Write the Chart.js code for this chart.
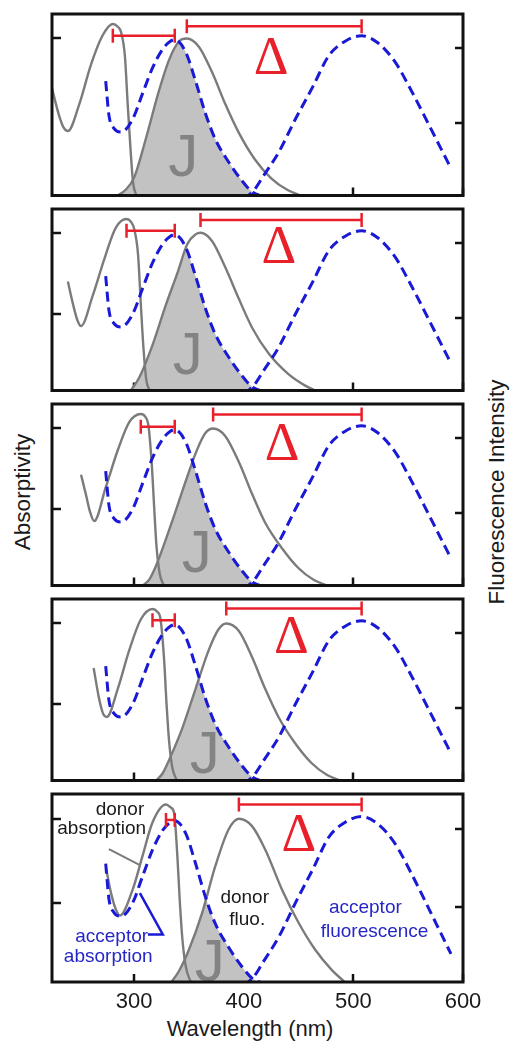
<!DOCTYPE html>
<html>
<head>
<meta charset="utf-8">
<script src="https://cdn.jsdelivr.net/npm/chart.js@4.4.1/dist/chart.umd.min.js"></script>
<style>
  html, body { margin: 0; padding: 0; background: #fff; }
  body { width: 510px; height: 1041px; position: relative; overflow: hidden;
         font-family: "Liberation Sans", Arial, sans-serif; color: #1a1a1a; }
  canvas { position: absolute; left: 0; }
  .title { position: absolute; white-space: nowrap; line-height: 1; font-size: 22.5px; }
  .rot { transform: translate(-50%, -50%) rotate(-90deg); }
  .flat { transform: translate(-50%, -50%); font-size: 22px; }
</style>
</head>
<body>
<div class="title rot" style="left:23px; top:492px;">Absorptivity</div>
<div class="title rot" style="left:497px; top:492px;">Fluorescence Intensity</div>
<div class="title flat" style="left:250px; top:1029px;">Wavelength (nm)</div>
<script>
// ---- axis ticks ----
const xTickValues = [300, 400, 500, 600];
const leftTickValues = [[0.867], [0.42, 0.867], [0.42, 0.867], [0.42, 0.867], [0.42, 0.867]];
const rightTickValues = [0.40, 0.814];

// ---- acceptor spectra (same acceptor in every panel) ----
const acceptorAbsNm  = [274, 277, 281.5, 288, 298.5, 307.5, 316.5, 326, 333, 337, 347, 356, 365, 374, 386, 398.5, 408, 420];
const acceptorAbsVal = [0.63, 0.44, 0.37, 0.35, 0.42, 0.56, 0.70, 0.807, 0.85, 0.858, 0.79, 0.63, 0.452, 0.31, 0.186, 0.08, 0.018, -0.01];
const acceptorFluoNm  = [400, 410, 417, 432, 447, 463, 477.5, 492.5, 507.5, 522.5, 538, 553, 568, 580, 589];
const acceptorFluoVal = [-0.02, 0.035, 0.10, 0.24, 0.42, 0.60, 0.77, 0.85, 0.88, 0.84, 0.736, 0.576, 0.40, 0.257, 0.15];

// ---- donor absorption, one row per panel ----
const donorAbsNm = [
  [225, 231, 235.5, 239.5, 250, 260.5, 271, 280.5, 285, 288, 291.5, 294, 296.7, 299, 302],
  [239.5, 244, 248, 251.5, 262, 272.5, 283, 293, 297, 300, 303.5, 306, 308.5, 311, 314],
  [251.5, 256, 259.5, 263.5, 274, 285, 295.5, 306, 310, 313, 316, 318.2, 320.3, 323.3, 327],
  [263, 268, 271.5, 275, 285, 295.5, 306, 316.7, 321, 324, 327.3, 329.4, 331.8, 334.8, 339],
  [274.5, 279, 283, 287, 298.5, 307.5, 316.5, 329, 333, 336.4, 339.4, 341.5, 344, 347, 351.5]
];
const donorAbsVal = [
  [0.59, 0.45, 0.375, 0.355, 0.505, 0.72, 0.88, 0.945, 0.93, 0.90, 0.77, 0.51, 0.25, 0.07, 0],
  [0.60, 0.48, 0.39, 0.355, 0.52, 0.72, 0.895, 0.945, 0.93, 0.89, 0.75, 0.48, 0.23, 0.06, 0],
  [0.61, 0.50, 0.41, 0.355, 0.54, 0.745, 0.90, 0.945, 0.93, 0.88, 0.67, 0.434, 0.22, 0.065, 0],
  [0.62, 0.45, 0.37, 0.35, 0.505, 0.718, 0.887, 0.945, 0.93, 0.89, 0.665, 0.434, 0.22, 0.07, 0],
  [0.60, 0.47, 0.39, 0.354, 0.49, 0.668, 0.846, 0.944, 0.93, 0.90, 0.668, 0.44, 0.226, 0.084, 0]
];

// ---- donor fluorescence, one row per panel ----
const donorFluoNm = [
  [285, 292, 300, 310.5, 322.5, 332, 341, 348, 359, 371, 383, 395.5, 410, 425, 440, 452],
  [297, 304.5, 316.7, 328.8, 339.4, 348.5, 356, 360.5, 371, 383, 395.5, 407.6, 422.7, 441, 456, 465],
  [308, 314, 320, 335, 347, 357.5, 365, 372, 383, 395.5, 407.5, 419.5, 435, 450, 464, 476],
  [320, 326, 332, 344, 356, 368, 377, 384, 395.5, 407.5, 419.5, 432, 447, 462, 476, 488],
  [334, 341, 350, 362, 374, 386, 395.5, 407.5, 419.5, 435, 450, 465, 480, 492]
];
const donorFluoVal = [
  [0, 0.03, 0.10, 0.31, 0.575, 0.75, 0.85, 0.865, 0.82, 0.68, 0.505, 0.345, 0.20, 0.095, 0.03, 0],
  [0, 0.07, 0.25, 0.47, 0.647, 0.807, 0.86, 0.869, 0.824, 0.68, 0.505, 0.346, 0.204, 0.089, 0.027, 0],
  [0, 0.035, 0.11, 0.36, 0.575, 0.75, 0.84, 0.865, 0.824, 0.68, 0.505, 0.346, 0.204, 0.095, 0.03, 0],
  [0, 0.04, 0.115, 0.29, 0.505, 0.718, 0.833, 0.865, 0.824, 0.68, 0.505, 0.346, 0.204, 0.095, 0.03, 0],
  [0, 0.06, 0.173, 0.368, 0.616, 0.81, 0.868, 0.829, 0.705, 0.49, 0.315, 0.173, 0.066, 0]
];

// ---- band maxima joined by the red shift bars ----
const donorAbsPeak = [280.5, 293, 306, 316.7, 329];
const donorFluoPeak = [348, 360.5, 372, 384, 395.5];
const acceptorAbsPeak = 337;
const acceptorFluoPeak = 507.5;

// ---- placement of bars and letters (axis units) ----
const layout = {
  smallBarLevel: [0.88, 0.88, 0.875, 0.883, 0.862],
  bigBarLevel: [0.932, 0.94, 0.942, 0.948, 0.944],
  deltaAt: [[425, 0.667], [432, 0.70], [435, 0.693], [443.4, 0.70], [450.3, 0.698]],
  jAt: [[344.8, 0.107], [348.9, 0.09], [357.1, 0.074], [364.4, 0.04], [369, 0.005]]
};

const GREY = '#7b7b7b', BLUE = '#1a1ad6', RED = '#e8202a', FILL = '#c2c2c2';
const J_COLOR = '#838383', INK = '#1a1a1a', BLUE_TEXT = '#2626c6';
const NOTE_FONT = '19px "Liberation Sans", Arial, sans-serif';

// labels in the bottom panel
const notes = [
  { text: 'donor', at: [287, 0.888], color: INK },
  { text: 'absorption', at: [270.3, 0.787], color: INK },
  { text: 'acceptor', at: [279.4, 0.214], color: BLUE_TEXT },
  { text: 'absorption', at: [276.3, 0.104], color: BLUE_TEXT },
  { text: 'donor', at: [400.8, 0.42], color: INK },
  { text: 'fluo.', at: [403.1, 0.303], color: INK },
  { text: 'acceptor', at: [510.9, 0.367], color: BLUE_TEXT },
  { text: 'fluorescence', at: [519.3, 0.241], color: BLUE_TEXT }
];
const leaders = [
  { pts: [[276.9, 0.707], [305.2, 0.622]], color: GREY, width: 2 },
  { pts: [[312.5, 0.253], [326.1, 0.253], [305.2, 0.473]], color: BLUE, width: 2.5 }
];

Chart.defaults.font.family = '"Liberation Sans", Arial, sans-serif';
Chart.defaults.color = INK;

const xy = (xs, ys) => xs.map((x, k) => ({ x, y: ys[k] }));

function curve(data, color, axis, dashed) {
  return {
    data, yAxisID: axis, borderColor: color,
    borderWidth: dashed ? 3 : 2.4, borderDash: dashed ? [10, 5.5] : [],
    pointRadius: 0, cubicInterpolationMode: 'monotone', fill: false
  };
}
function shiftBar(x0, x1, level) {
  return {
    data: [{ x: x0, y: level }, { x: x1, y: level }], yAxisID: 'y',
    borderColor: RED, borderWidth: 2.5, tension: 0,
    pointStyle: 'line', pointRotation: 90, pointRadius: 7,
    pointBorderColor: RED, pointBorderWidth: 2.5, pointBackgroundColor: RED
  };
}

// closed region between a line element and the baseline
function areaUnder(ctx, line, base) {
  const pts = line.points;
  ctx.beginPath();
  line.path(ctx);
  ctx.lineTo(pts[pts.length - 1].x, base);
  ctx.lineTo(pts[0].x, base);
  ctx.closePath();
}

const decor = {
  id: 'decor',
  beforeDatasetsDraw(chart, args, o) {
    const { ctx, chartArea: a, scales } = chart;
    // spectral overlap J: area under both the donor emission and the acceptor absorption
    const absLine = chart.getDatasetMeta(2).dataset;
    const fluoLine = chart.getDatasetMeta(5).dataset;
    absLine.updateControlPoints(a, 'x');
    fluoLine.updateControlPoints(a, 'x');
    const base = scales.y.getPixelForValue(0);
    ctx.save();
    ctx.beginPath();
    ctx.rect(a.left, a.top, a.right - a.left, a.bottom - a.top);
    ctx.clip();
    areaUnder(ctx, fluoLine, base);
    ctx.clip();
    areaUnder(ctx, absLine, base);
    ctx.fillStyle = FILL;
    ctx.fill();
    ctx.restore();

    const [jx, jy] = layout.jAt[o.panel];
    ctx.save();
    ctx.font = '60px "Liberation Sans", Arial, sans-serif';
    ctx.fillStyle = J_COLOR;
    ctx.textAlign = 'center';
    ctx.textBaseline = 'alphabetic';
    ctx.fillText('J', scales.x.getPixelForValue(jx), scales.y.getPixelForValue(jy));
    ctx.restore();
  },
  afterDraw(chart, args, o) {
    const { ctx, chartArea: a, scales } = chart;
    const px = (p) => [scales.x.getPixelForValue(p[0]), scales.y.getPixelForValue(p[1])];
    ctx.save();
    ctx.textAlign = 'center';
    ctx.textBaseline = 'alphabetic';

    const d = px(layout.deltaAt[o.panel]);
    ctx.font = '54px "Liberation Serif", "Times New Roman", serif';
    ctx.fillStyle = RED;
    ctx.fillText('\u0394', d[0], d[1]);

    if (o.annotate) {
      ctx.font = NOTE_FONT;
      for (const n of notes) {
        const p = px(n.at);
        ctx.fillStyle = n.color;
        ctx.fillText(n.text, p[0], p[1]);
      }
      ctx.lineJoin = 'miter';
      for (const l of leaders) {
        ctx.beginPath();
        l.pts.forEach((q, k) => { const p = px(q); k ? ctx.lineTo(p[0], p[1]) : ctx.moveTo(p[0], p[1]); });
        ctx.strokeStyle = l.color;
        ctx.lineWidth = l.width;
        ctx.stroke();
      }
    }

    ctx.strokeStyle = '#111';
    ctx.lineWidth = 3;
    ctx.strokeRect(a.left, a.top, a.right - a.left, a.bottom - a.top);
    ctx.restore();
  }
};

const PITCH = 195, AREA_TOP = 14, AREA_BOTTOM = 202;
const inwardTicks = (len) => ({
  display: true, drawOnChartArea: false, drawTicks: true,
  tickLength: len, tickWidth: 2.5, tickColor: '#111', lineWidth: 0
});

for (let i = 0; i < 5; i++) {
  const last = i === 4;
  const h = last ? 261 : 205;
  const cv = document.createElement('canvas');
  cv.width = 510; cv.height = h;
  cv.style.top = (i * PITCH) + 'px';
  cv.style.width = '510px'; cv.style.height = h + 'px';
  document.body.appendChild(cv);

  new Chart(cv, {
    type: 'line',
    data: {
      datasets: [
        shiftBar(donorAbsPeak[i], acceptorAbsPeak, layout.smallBarLevel[i]),
        shiftBar(donorFluoPeak[i], acceptorFluoPeak, layout.bigBarLevel[i]),
        curve(xy(acceptorAbsNm, acceptorAbsVal), BLUE, 'y', true),
        curve(xy(acceptorFluoNm, acceptorFluoVal), BLUE, 'y2', true),
        curve(xy(donorAbsNm[i], donorAbsVal[i]), GREY, 'y', false),
        curve(xy(donorFluoNm[i], donorFluoVal[i]), GREY, 'y2', false)
      ]
    },
    options: {
      responsive: false, animation: false, events: [],
      layout: { padding: { top: AREA_TOP, left: 0, right: 0, bottom: 0 } },
      plugins: { legend: { display: false }, tooltip: { enabled: false },
                 decor: { panel: i, annotate: last } },
      scales: {
        x: {
          type: 'linear', position: 'bottom', min: 225, max: 600,
          afterBuildTicks: (s) => { s.ticks = xTickValues.map(v => ({ value: v })); },
          afterFit: (s) => { s.height = h - AREA_BOTTOM; },
          grid: inwardTicks(-8), border: { display: false },
          ticks: { display: last, padding: 15, autoSkip: false, maxRotation: 0,
                   font: { size: 22 }, color: INK }
        },
        y: {
          type: 'linear', position: 'left', min: 0, max: 1,
          afterBuildTicks: (s) => { s.ticks = leftTickValues[i].map(v => ({ value: v })); },
          afterFit: (s) => { s.width = 52; },
          grid: inwardTicks(-9), border: { display: false }, ticks: { display: false }
        },
        y2: {
          type: 'linear', position: 'right', min: 0, max: 1,
          afterBuildTicks: (s) => { s.ticks = rightTickValues.map(v => ({ value: v })); },
          afterFit: (s) => { s.width = 47; },
          grid: inwardTicks(-8), border: { display: false }, ticks: { display: false }
        }
      }
    },
    plugins: [decor]
  });
}
</script>
</body>
</html>
